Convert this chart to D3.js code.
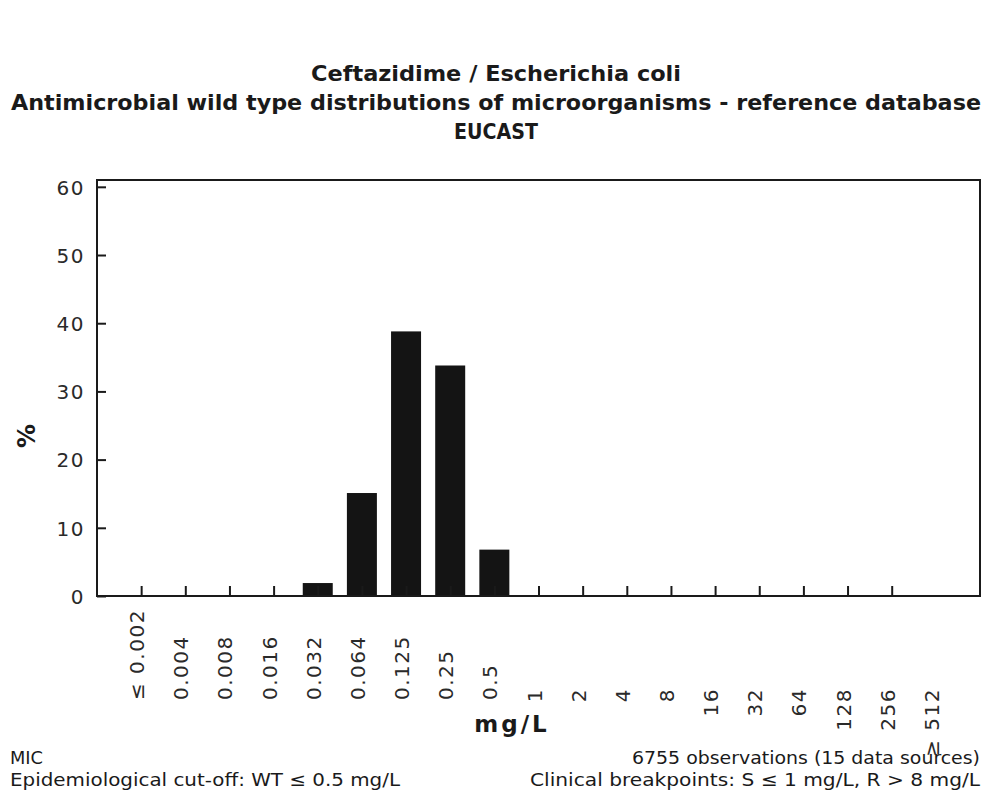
<!DOCTYPE html>
<html>
<head>
<meta charset="utf-8">
<script src="https://cdn.jsdelivr.net/npm/d3@7"></script>
<style>
  body { margin: 0; background: #fff; }
  svg text { fill: #1a1a1a; }
  .tick line { stroke: #1a1a1a; stroke-width: 2; }
  .num { font-family: "DejaVu Sans", sans-serif; font-size: 20px; letter-spacing: 1.5px; fill: #2a2a2a; }
  .cond { font-family: "DejaVu Sans Condensed", "Liberation Sans Narrow", sans-serif; font-stretch: condensed; }
</style>
</head>
<body>
<div id="chart"></div>
<script>
// canvas
const width = 988,
  height = 803
const plotLeft = 97, plotRight = 980, plotTop = 180, plotBottom = 596

// data
const mics = ['≤ 0.002', '0.004', '0.008', '0.016', '0.032', '0.064', '0.125', '0.25', '0.5',
  '1', '2', '4', '8', '16', '32', '64', '128', '256', '≥ 512']
const percents = [0, 0, 0, 0, 1.9, 15.1, 38.8, 33.8, 6.8,
  0, 0, 0, 0, 0, 0, 0, 0, 0, 0]
const yTicks = [0, 10, 20, 30, 40, 50, 60]
const titleLines = ['Ceftazidime / Escherichia coli',
  'Antimicrobial wild type distributions of microorganisms - reference database',
  'EUCAST']
const notesLeft = ['MIC', 'Epidemiological cut-off: WT ≤ 0.5 mg/L']
const notesRight = ['6755 observations (15 data sources)', 'Clinical breakpoints: S ≤ 1 mg/L,  R > 8 mg/L']

const data = mics.map((m, i) => ({ mic: m, pct: percents[i] }))

let svg = d3.select('#chart')
  .append('svg')
  .attr('width', width)
  .attr('height', height)

const x = d3.scalePoint()
  .domain(mics)
  .range([plotLeft, plotRight])
  .padding(1)

const y = d3.scaleLinear()
  .domain([0, 61])
  .range([plotBottom, plotTop])

// titles
const titleWidths = [370, 970, 84]
svg.selectAll('.title')
  .data(titleLines)
  .enter()
  .append('text')
  .attr('class', 'title cond')
  .attr('x', 496)
  .attr('y', (d, i) => 81 + i * 29)
  .attr('text-anchor', 'middle')
  .attr('font-weight', 'bold')
  .attr('font-size', 21)
  .attr('textLength', (d, i) => titleWidths[i])
  .attr('lengthAdjust', 'spacingAndGlyphs')
  .text(d => d)

// bars
const barW = 30
svg.selectAll('.bar')
  .data(data.filter(d => d.pct > 0))
  .enter()
  .append('rect')
  .attr('class', 'bar')
  .attr('x', d => x(d.mic) - barW / 2)
  .attr('y', d => y(d.pct))
  .attr('width', barW)
  .attr('height', d => y(0) - y(d.pct))
  .attr('fill', '#141414')

// axes
let yAxisGroup = svg.append('g')
  .attr('transform', `translate(${plotLeft}, 0)`)
  .call(d3.axisLeft(y).tickValues(yTicks).tickSize(-9).tickPadding(12))
yAxisGroup.select('.domain').remove()
yAxisGroup.selectAll('text').attr('class', 'num').attr('fill', null).attr('dy', '0.36em')

let xAxisGroup = svg.append('g')
  .attr('transform', `translate(0, ${plotBottom})`)
  .call(d3.axisBottom(x).tickValues(mics.slice(0, -1)).tickSize(-10).tickFormat(''))
xAxisGroup.select('.domain').remove()

// frame
svg.append('rect')
  .attr('x', plotLeft)
  .attr('y', plotTop)
  .attr('width', plotRight - plotLeft)
  .attr('height', plotBottom - plotTop)
  .attr('fill', 'none')
  .attr('stroke', '#1a1a1a')
  .attr('stroke-width', 2)

// rotated MIC labels
svg.selectAll('.xlab')
  .data(mics)
  .enter()
  .append('text')
  .attr('class', 'xlab num')
  .attr('transform', (d, i) => `translate(${x(d) + 3}, ${i < 9 ? 700 : 688}) rotate(-90)`)
  .attr('text-anchor', (d, i) => i < 9 ? 'start' : 'end')
  .text(d => d)

// axis titles
svg.append('text')
  .attr('x', 512)
  .attr('y', 732)
  .attr('text-anchor', 'middle')
  .attr('font-family', 'DejaVu Sans, sans-serif')
  .attr('font-weight', 'bold')
  .attr('font-size', 23)
  .attr('letter-spacing', 3)
  .text('mg/L')

svg.append('text')
  .attr('transform', 'translate(35, 436) rotate(-90)')
  .attr('text-anchor', 'middle')
  .attr('font-family', 'DejaVu Sans, sans-serif')
  .attr('font-weight', 'bold')
  .attr('font-size', 24)
  .text('%')

// footnotes
const leftW = [33, 390], rightW = [348, 450]
svg.selectAll('.noteL')
  .data(notesLeft)
  .enter()
  .append('text')
  .attr('class', 'noteL cond')
  .attr('x', 10)
  .attr('y', (d, i) => 764 + i * 22)
  .attr('font-size', 18)
  .attr('textLength', (d, i) => leftW[i])
  .attr('lengthAdjust', 'spacingAndGlyphs')
  .text(d => d)

svg.selectAll('.noteR')
  .data(notesRight)
  .enter()
  .append('text')
  .attr('class', 'noteR cond')
  .attr('x', (d, i) => 980 - rightW[i])
  .attr('y', (d, i) => 764 + i * 22)
  .attr('font-size', 18)
  .attr('textLength', (d, i) => rightW[i])
  .attr('lengthAdjust', 'spacingAndGlyphs')
  .text(d => d)
</script>
</body>
</html>
